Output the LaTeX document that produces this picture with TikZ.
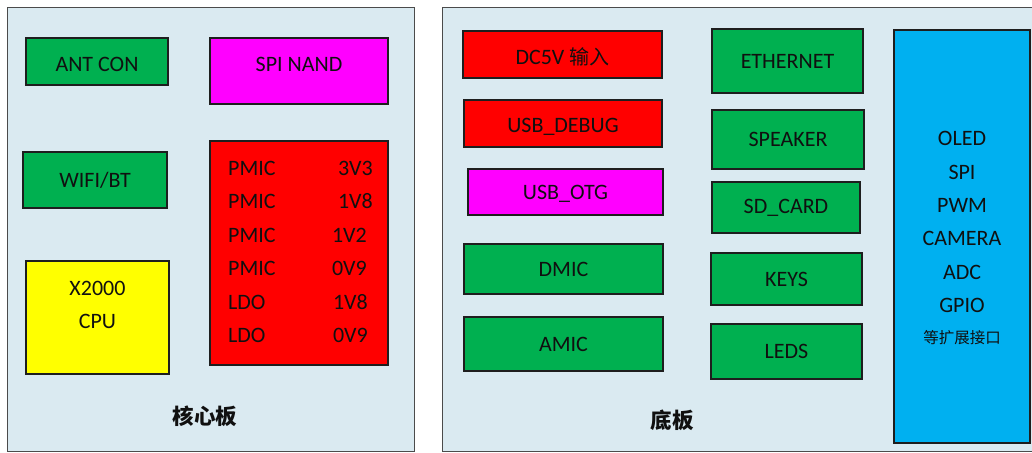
\documentclass[tikz,border=0pt]{standalone}
\usepackage{fontspec}
\setmainfont{Carlito}
\newfontfamily\cjk{Noto Sans CJK SC}
\definecolor{panelbg}{HTML}{DAEAF1}
\definecolor{gbox}{HTML}{00B050}
\definecolor{rbox}{HTML}{FF0000}
\definecolor{mbox}{HTML}{FF00FF}
\definecolor{ybox}{HTML}{FFFF00}
\definecolor{bbox}{HTML}{00B0F0}
\definecolor{edge}{HTML}{1E1E1E}
\definecolor{ink}{HTML}{101010}
\tikzset{
  panel/.style={draw=edge!80, line width=1.4pt, fill=panelbg},
  blk/.style={draw=edge, line width=1.4pt, inner sep=0pt, text=ink, font=\fontsize{22}{26}\selectfont},
  gblk/.style={blk, fill=gbox},
  rblk/.style={blk, fill=rbox},
  mblk/.style={blk, fill=mbox},
  txt/.style={inner sep=0pt, text=ink, font=\fontsize{22}{26}\selectfont},
  cn/.style={inner sep=0pt, text=ink, font=\cjk\bfseries\fontsize{21.5}{24}\selectfont},
}
\begin{document}
\begin{tikzpicture}[x=1pt,y=-1pt]
\useasboundingbox (0,0) rectangle (1032,452);
% panels
\node[panel, minimum width=407pt, minimum height=444pt, anchor=north west, inner sep=0pt] (core) at (7,7) {};
\node[panel, minimum width=600pt, minimum height=444pt, anchor=north west, inner sep=0pt] (base) at (442,7) {};
% core board
\node[gblk, minimum width=142pt, minimum height=47pt] (ant) at (97,61.5) {};
\node[txt] (antt) at (97,64) {ANT CON};
\node[mblk, minimum width=178pt, minimum height=66pt] (nand) at (299,71) {};
\node[txt] (nandt) at (299,64.5) {SPI NAND};
\node[gblk, minimum width=144pt, minimum height=56pt] (wifi) at (95,180) {WIFI/BT};
\node[blk, fill=ybox, minimum width=143pt, minimum height=113pt] (cpu) at (97.5,317.5) {};
\node[txt] (cpu1) at (97.5,288) {X2000};
\node[txt] (cpu2) at (97.5,321) {CPU};
\node[rblk, minimum width=178pt, minimum height=224pt] (pm) at (299,253) {};
\node[txt, anchor=west] (l1) at (228,168) {PMIC};
\node[txt, anchor=west] (l2) at (228,201) {PMIC};
\node[txt, anchor=west] (l3) at (228,235) {PMIC};
\node[txt, anchor=west] (l4) at (228,268) {PMIC};
\node[txt, anchor=west] (l5) at (228,302) {LDO};
\node[txt, anchor=west] (l6) at (228,335) {LDO};
\node[txt, anchor=east] (r1) at (373,168) {3V3};
\node[txt, anchor=east] (r2) at (373,201) {1V8};
\node[txt, anchor=east] (r3) at (367,235) {1V2};
\node[txt, anchor=east] (r4) at (367,268) {0V9};
\node[txt, anchor=east] (r5) at (368,302) {1V8};
\node[txt, anchor=east] (r6) at (368,335) {0V9};
\node[cn] (coret) at (205,416) {核心板};
% base board
\node[rblk, minimum width=199pt, minimum height=47pt] (dc) at (562.5,54.5) {};
\node[txt] (dct) at (562.5,57) {DC5V {\cjk\fontsize{20}{24}\selectfont 输入}};
\node[rblk, minimum width=198pt, minimum height=47pt] (dbg) at (563,123.5) {};
\node[txt] (dbgt) at (563,126.5) {USB\_DEBUG};
\node[mblk, minimum width=195pt, minimum height=46pt] (otg) at (565.5,192) {};
\node[txt] (otgt) at (565.5,194) {USB\_OTG};
\node[gblk, minimum width=199pt, minimum height=50pt] (dmic) at (563.5,269) {DMIC};
\node[gblk, minimum width=199pt, minimum height=54pt] (amic) at (563.5,344) {AMIC};
\node[cn] (baset) at (672,420) {底板};
\node[gblk, minimum width=151pt, minimum height=64pt] (eth) at (787.5,61) {ETHERNET};
\node[gblk, minimum width=152pt, minimum height=59pt] (spk) at (788,139.5) {SPEAKER};
\node[gblk, minimum width=148pt, minimum height=51pt] (sd) at (786,207.5) {SD\_CARD};
\node[gblk, minimum width=151pt, minimum height=52pt] (keys) at (786.5,279) {KEYS};
\node[gblk, minimum width=151pt, minimum height=55pt] (leds) at (786.5,351.5) {LEDS};
\node[blk, fill=bbox, minimum width=136pt, minimum height=413pt] (ext) at (962,236.5) {};
\node[txt] (e1) at (962,138) {OLED};
\node[txt] (e2) at (962,172) {SPI};
\node[txt] (e3) at (962,205) {PWM};
\node[txt] (e4) at (962,238) {CAMERA};
\node[txt] (e5) at (962,272) {ADC};
\node[txt] (e6) at (962,305) {GPIO};
\node[txt, font=\cjk\fontsize{15.5}{20}\selectfont] (e7) at (962,338) {等扩展接口};
\end{tikzpicture}
\end{document}
